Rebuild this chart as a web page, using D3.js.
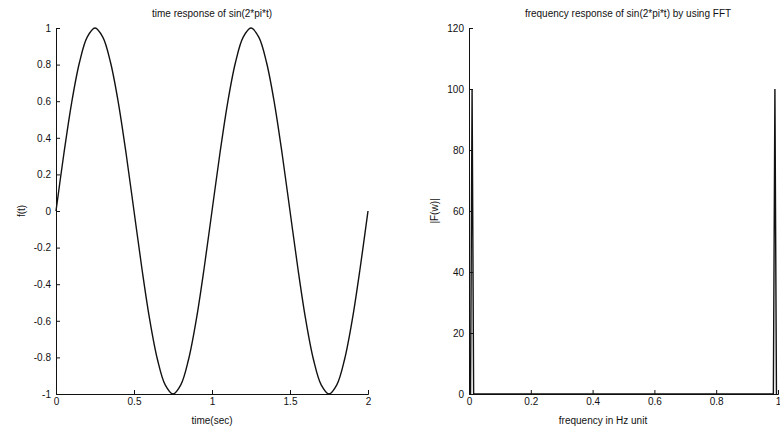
<!DOCTYPE html>
<html>
<head>
<meta charset="utf-8">
<script src="https://cdn.jsdelivr.net/npm/d3@7"></script>
<style>
  body { margin: 0; background: #fff; }
  svg { display: block; font-family: "Liberation Sans", Arial, sans-serif; }
  .axis path, .axis line { stroke: #111; }
  .axis text { fill: #111; font-size: 10px; }
</style>
</head>
<body>
<script>
// time response values, read at t = 0, 0.05, ... 2
const timeSec = [0, 0.05, 0.1, 0.15, 0.2, 0.25, 0.3, 0.35, 0.4, 0.45, 0.5,
  0.55, 0.6, 0.65, 0.7, 0.75, 0.8, 0.85, 0.9, 0.95, 1,
  1.05, 1.1, 1.15, 1.2, 1.25, 1.3, 1.35, 1.4, 1.45, 1.5,
  1.55, 1.6, 1.65, 1.7, 1.75, 1.8, 1.85, 1.9, 1.95, 2]
const ft = [0, 0.31, 0.59, 0.81, 0.95, 1, 0.95, 0.81, 0.59, 0.31, 0,
  -0.31, -0.59, -0.81, -0.95, -1, -0.95, -0.81, -0.59, -0.31, 0,
  0.31, 0.59, 0.81, 0.95, 1, 0.95, 0.81, 0.59, 0.31, 0,
  -0.31, -0.59, -0.81, -0.95, -1, -0.95, -0.81, -0.59, -0.31, 0]

// FFT magnitude, spikes near 0 and near 1
const freq = [0, 0.005, 0.01, 0.015, 0.985, 0.99, 0.995]
const mag = [0, 0, 100, 0, 0, 100, 0]

const timeTicks = [0, 0.5, 1, 1.5, 2]
const ftTicks = [-1, -0.8, -0.6, -0.4, -0.2, 0, 0.2, 0.4, 0.6, 0.8, 1]
const freqTicks = [0, 0.2, 0.4, 0.6, 0.8, 1]
const magTicks = [0, 20, 40, 60, 80, 100, 120]

const width = 780
const height = 427

// matlab style labels, plain hyphen for minus
const plain = function(d) { return String(d) }

const svg = d3.select("body")
    .append("svg")
    .attr("width", width)
    .attr("height", height)

const plotTop = 28, plotBottom = 394

// ---- left panel: time response ----
const x1 = d3.scaleLinear().domain([0, 2]).range([56, 368])
const y1 = d3.scaleLinear().domain([-1, 1]).range([plotBottom, plotTop])

svg.append("g")
    .attr("class", "axis")
    .attr("transform", "translate(0," + plotBottom + ")")
    .call(d3.axisBottom(x1).tickValues(timeTicks).tickSize(-4).tickPadding(4)
        .tickFormat(plain))

svg.append("g")
    .attr("class", "axis")
    .attr("transform", "translate(56,0)")
    .call(d3.axisLeft(y1).tickValues(ftTicks).tickSize(-4).tickPadding(5)
        .tickFormat(plain))

const line1 = d3.line()
    .curve(d3.curveCatmullRom)
    .x(function(d, i) { return x1(timeSec[i]) })
    .y(function(d) { return y1(d) })

svg.append("path")
    .datum(ft)
    .attr("d", line1)
    .attr("fill", "none")
    .attr("stroke", "#111")
    .attr("stroke-width", 1.4)

svg.append("text")
    .attr("x", 212).attr("y", 17)
    .attr("text-anchor", "middle")
    .style("font-size", "10px")
    .style("fill", "#111")
    .text("time response of sin(2*pi*t)")

svg.append("text")
    .attr("x", 212).attr("y", 424)
    .attr("text-anchor", "middle")
    .style("font-size", "10px")
    .style("fill", "#111")
    .text("time(sec)")

svg.append("text")
    .attr("transform", "translate(25,211) rotate(-90)")
    .attr("text-anchor", "middle")
    .style("font-size", "10px")
    .style("fill", "#111")
    .text("f(t)")

// ---- right panel: FFT magnitude ----
const x2 = d3.scaleLinear().domain([0, 1]).range([469, 778])
const y2 = d3.scaleLinear().domain([0, 120]).range([plotBottom, plotTop])

svg.append("g")
    .attr("class", "axis")
    .attr("transform", "translate(0," + plotBottom + ")")
    .call(d3.axisBottom(x2).tickValues(freqTicks).tickSize(-4).tickPadding(4)
        .tickFormat(plain))

svg.append("g")
    .attr("class", "axis")
    .attr("transform", "translate(469,0)")
    .call(d3.axisLeft(y2).tickValues(magTicks).tickSize(-4).tickPadding(5)
        .tickFormat(plain))

const line2 = d3.line()
    .x(function(d, i) { return x2(freq[i]) })
    .y(function(d) { return y2(d) })

svg.append("path")
    .datum(mag)
    .attr("d", line2)
    .attr("fill", "none")
    .attr("stroke", "#111")
    .attr("stroke-width", 1.4)

svg.append("text")
    .attr("x", 628).attr("y", 17)
    .attr("text-anchor", "middle")
    .style("font-size", "10px")
    .style("fill", "#111")
    .text("frequency response of sin(2*pi*t) by using FFT")

svg.append("text")
    .attr("x", 603).attr("y", 424)
    .attr("text-anchor", "middle")
    .style("font-size", "10px")
    .style("fill", "#111")
    .text("frequency in Hz unit")

svg.append("text")
    .attr("transform", "translate(438,211) rotate(-90)")
    .attr("text-anchor", "middle")
    .style("font-size", "10px")
    .style("fill", "#111")
    .text("|F(w)|")
</script>
</body>
</html>
